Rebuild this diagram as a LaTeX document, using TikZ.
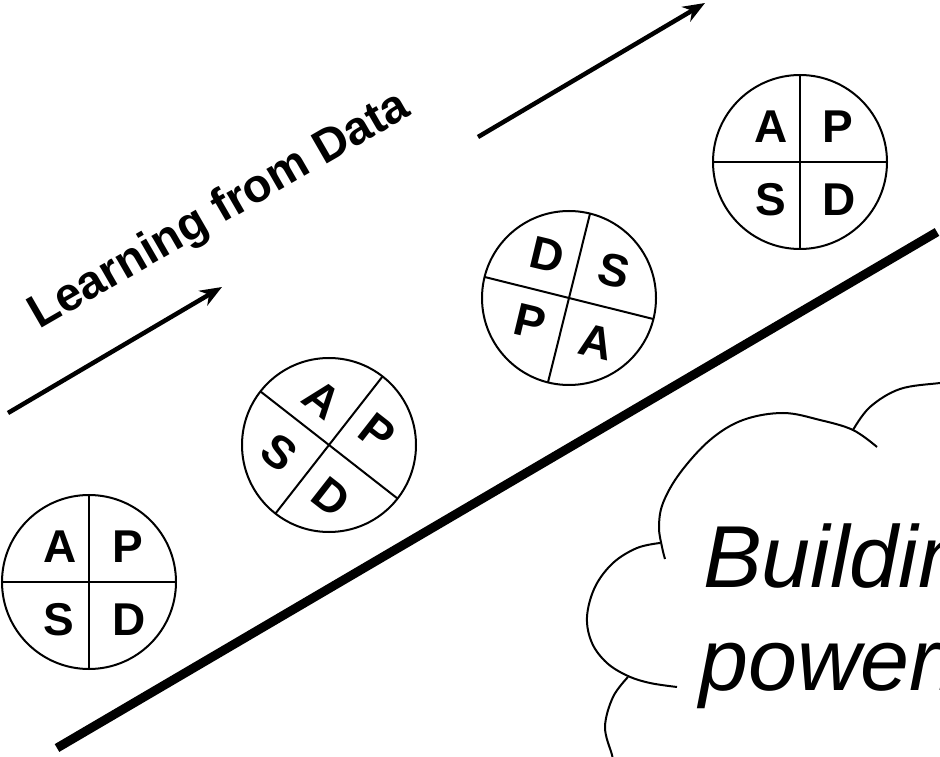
\documentclass[tikz,border=0pt]{standalone}
\usepackage{fontspec}
\setmainfont{Liberation Sans}
\usetikzlibrary{arrows.meta,calc}
\tikzset{
  wheel/.style={circle, draw, line width=2pt, minimum size=174pt, inner sep=0pt, outer sep=0pt},
  spoke/.style={line width=2pt},
  lt/.style={inner sep=0pt, font=\fontsize{46}{46}\selectfont\bfseries},
  track/.style={line width=9pt},
  flow/.style={line width=4.5pt, -{Stealth[length=22pt, width=17pt, inset=7pt]}},
  cloudline/.style={line width=2pt},
  cloudtext/.style={inner sep=0pt, anchor=base west, font=\fontsize{88}{88}\selectfont\itshape},
}
\begin{document}
\begin{tikzpicture}[x=1pt,y=1pt]
\useasboundingbox (0,0) rectangle (940,756);
\clip (0,0) rectangle (940,756);

% wheels
\node[wheel] (c1) at (89,174) {};
\node[wheel] (c2) at (329,311) {};
\node[wheel] (c3) at (569,458) {};
\node[wheel] (c4) at (800,594) {};

% spokes
\draw[spoke] (c1.90) -- (c1.270);
\draw[spoke] (c1.180) -- (c1.0);
\draw[spoke] (c2.52) -- (c2.232);
\draw[spoke] (c2.142) -- (c2.322);
\draw[spoke] (c3.76.5) -- (c3.256.5);
\draw[spoke] (c3.166.5) -- (c3.346.5);
\draw[spoke] (c4.90) -- (c4.270);
\draw[spoke] (c4.180) -- (c4.0);

% letters wheel 1
\node[lt] (c1a) at ($(c1.center)+(-29,35)$) {A};
\node[lt] (c1p) at ($(c1.center)+(39,35)$) {P};
\node[lt] (c1s) at ($(c1.center)+(-30,-38)$) {S};
\node[lt] (c1d) at ($(c1.center)+(40,-38)$) {D};
% letters wheel 2
\node[lt, rotate=-38] (c2a) at ($(c2.center)+(-7,46)$) {A};
\node[lt, rotate=-38] (c2p) at ($(c2.center)+(48,13)$) {P};
\node[lt, rotate=-38] (c2s) at ($(c2.center)+(-50,-7)$) {S};
\node[lt, rotate=-38] (c2d) at ($(c2.center)+(2,-52)$) {D};
% letters wheel 3
\node[lt, rotate=-13.5] (c3d) at ($(c3.center)+(-22,43)$) {D};
\node[lt, rotate=-13.5] (c3s) at ($(c3.center)+(45,27)$) {S};
\node[lt, rotate=-13.5] (c3p) at ($(c3.center)+(-39,-24)$) {P};
\node[lt, rotate=-13.5] (c3a) at ($(c3.center)+(27,-44)$) {A};
% letters wheel 4
\node[lt] (c4a) at ($(c4.center)+(-29,35)$) {A};
\node[lt] (c4p) at ($(c4.center)+(38,35)$) {P};
\node[lt] (c4s) at ($(c4.center)+(-29,-38)$) {S};
\node[lt] (c4d) at ($(c4.center)+(39,-38)$) {D};

% track
\coordinate (t1) at (57,8);
\coordinate (t2) at (937,524);
\draw[track] (t1) -- (t2);

% arrows
\coordinate (a1s) at (8,343);
\coordinate (a1e) at (222,469);
\coordinate (a2s) at (478,619);
\coordinate (a2e) at (705,753);
\draw[flow] (a1s) -- (a1e);
\draw[flow] (a2s) -- (a2e);

% label
\node[inner sep=0pt, anchor=base, rotate=30, font=\fontsize{47}{47}\selectfont\bfseries] (lbl) at (226,534) {Learning from Data};

% cloud
\draw[cloudline] plot[smooth, tension=0.6] coordinates {(853,326) (870,349) (900,367) (940,373) (960,375)};
\draw[cloudline] plot[smooth, tension=0.6] coordinates {(877,309) (853,326) (820,336) (783,343) (743,336) (710,316) (680,283) (663,253) (659,229) (662,209) (665,197)};
\draw[cloudline] plot[smooth, tension=0.6] coordinates {(660,213) (637,208) (613,193) (595,169) (587,139) (592,113) (607,93) (628,80) (650,73) (677,69)};
\draw[cloudline] plot[smooth, tension=0.6] coordinates {(628,79) (613,59) (605,29) (612,1) (614,-9)};

\node[cloudtext] (t1txt) at (703,169) {Building};
\node[cloudtext] (t2txt) at (699,66) {powern};
\end{tikzpicture}
\end{document}
